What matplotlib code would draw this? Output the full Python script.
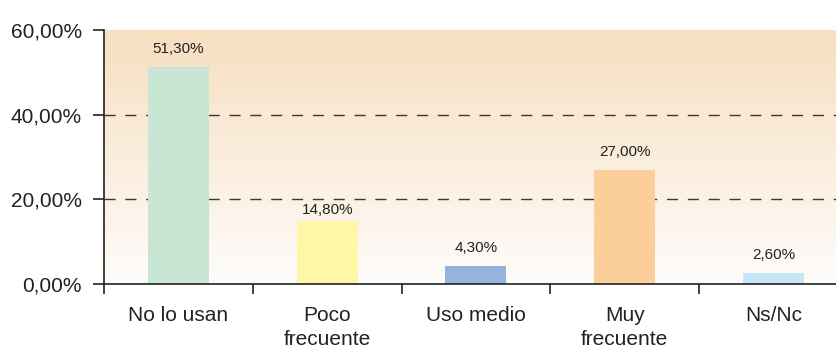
import numpy as np
import matplotlib
matplotlib.use("Agg")
import matplotlib.pyplot as plt
from matplotlib.colors import LinearSegmentedColormap

categories = ["No lo usan", "Poco\nfrecuente", "Uso medio", "Muy\nfrecuente", "Ns/Nc"]
values = [51.3, 14.8, 4.3, 27.0, 2.6]
value_labels = ["51,30%", "14,80%", "4,30%", "27,00%", "2,60%"]
bar_colors = ["#C9E5D4", "#FFF6A8", "#95B3DC", "#FCCE9A", "#C6E7F7"]
yticks = [0, 20, 40, 60]
ytick_labels = ["0,00%", "20,00%", "40,00%", "60,00%"]

plt.rcParams["font.family"] = ["Liberation Sans", "DejaVu Sans"]

fig = plt.figure(figsize=(8.36, 3.49), dpi=100)
ax = fig.add_axes([104 / 836, 65 / 349, 732 / 836, 254 / 349])

# peach -> white gradient background
cmap = LinearSegmentedColormap.from_list("bg", ["#FEFCFA", "#F7DFC0"])
grad = np.linspace(0, 1, 256).reshape(-1, 1)
ax.imshow(grad, cmap=cmap, aspect="auto", origin="lower",
          extent=[0, 1, 0, 1], transform=ax.transAxes, zorder=0)

x = np.arange(len(categories))
for v in [20, 40]:
    ax.axhline(v, color="#3a3a3a", lw=1.0, linestyle=(0, (8, 7)), zorder=1)

ax.bar(x, values, width=0.41, color=bar_colors, zorder=2)
for xi, v, lab in zip(x, values, value_labels):
    # the 14,80% label sits lower so it clears the 20% grid line
    off = 3 if lab == "14,80%" else 8
    ax.annotate(lab, (xi, v), xytext=(0, off), textcoords="offset points",
                ha="center", va="bottom", fontsize=11, color="#222222")

ax.set_yticks(yticks)
ax.set_yticklabels(ytick_labels, fontsize=15, color="#222222")
ax.set_xticks(x)
ax.set_xticklabels(categories, fontsize=15, color="#222222", linespacing=1.3)
ax.set_xticks(np.arange(-0.5, 4.6, 1.0), minor=True)
ax.set_xlim(-0.5, 4.5 - 12 / 149)
ax.set_ylim(0, 60)
ax.tick_params(axis="x", which="major", length=0, pad=16)
ax.tick_params(axis="x", which="minor", length=7, width=1.2, color="#222222")
ax.tick_params(axis="y", length=8, width=1.2, color="#222222", pad=8)

for s in ["top", "right"]:
    ax.spines[s].set_visible(False)
for s in ["left", "bottom"]:
    ax.spines[s].set_color("#222222")
    ax.spines[s].set_linewidth(1.2)

fig.savefig("out.png", dpi=100)
